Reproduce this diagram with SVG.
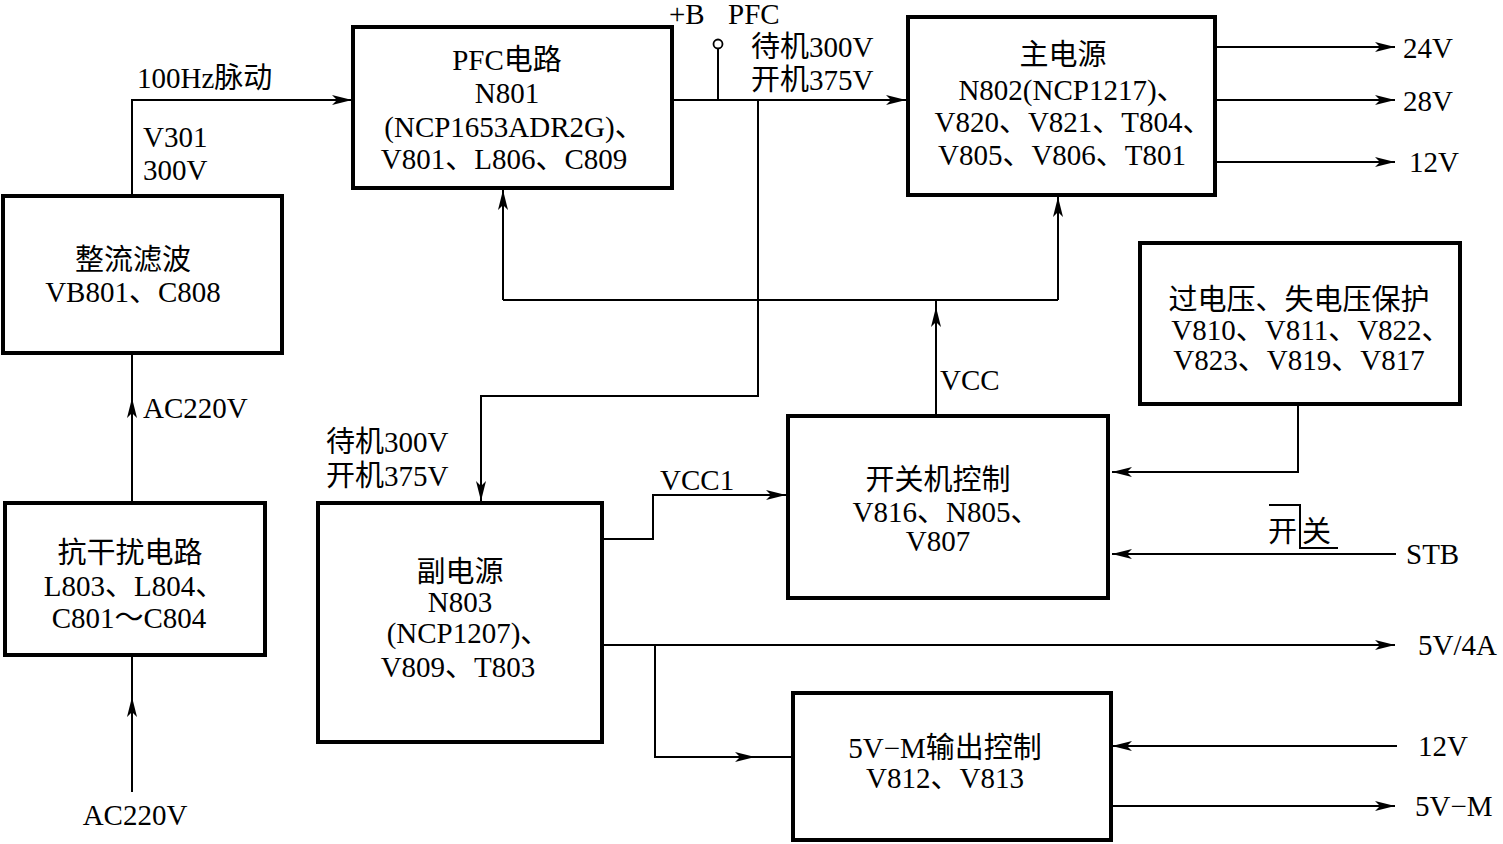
<svg xmlns="http://www.w3.org/2000/svg" width="1503" height="844" viewBox="0 0 1503 844">
<style>
text{font-family:"Liberation Serif","Noto Sans CJK SC",serif;font-size:29px;fill:#000}
.c{text-anchor:middle}
.box{fill:#fff;stroke:#000;stroke-width:4}
.ln{fill:none;stroke:#000;stroke-width:2}
</style>
<defs>
<marker id="arr" markerWidth="22" markerHeight="14" refX="20" refY="7" orient="auto" markerUnits="userSpaceOnUse">
<path d="M0,2 L20,7 L0,12 L5,7 Z" fill="#000"/>
</marker>
</defs>
<rect width="1503" height="844" fill="#fff"/>
<g id="connectors">
<path class="ln" d="M132,792 V697" marker-end="url(#arr)"/>
<path class="ln" d="M132,697 V655"/>
<path class="ln" d="M132,503 V398" marker-end="url(#arr)"/>
<path class="ln" d="M132,398 V353"/>
<path class="ln" d="M132,196 V100 H352" marker-end="url(#arr)"/>
<path class="ln" d="M672,100 H906" marker-end="url(#arr)"/>
<path class="ln" d="M718,100 V49"/>
<circle cx="718" cy="44" r="4.5" fill="#fff" stroke="#000" stroke-width="1.8"/>
<path class="ln" d="M758,100 V396 H481 V501" marker-end="url(#arr)"/>
<path class="ln" d="M503,300 H1058"/>
<path class="ln" d="M503,300 V190" marker-end="url(#arr)"/>
<path class="ln" d="M1058,300 V197" marker-end="url(#arr)"/>
<path class="ln" d="M936,416 V307" marker-end="url(#arr)"/>
<path class="ln" d="M936,307 V300"/>
<path class="ln" d="M602,539 H653 V495 H786" marker-end="url(#arr)"/>
<path class="ln" d="M1298,404 V472 H1112" marker-end="url(#arr)"/>
<path class="ln" d="M1396,554 H1112" marker-end="url(#arr)"/>
<path class="ln" d="M602,645 H1395" marker-end="url(#arr)"/>
<path class="ln" d="M655,645 V757 H755" marker-end="url(#arr)"/>
<path class="ln" d="M755,757 H793"/>
<path class="ln" d="M1397,746 H1112" marker-end="url(#arr)"/>
<path class="ln" d="M1111,806 H1395" marker-end="url(#arr)"/>
<path class="ln" d="M1215,47 H1395" marker-end="url(#arr)"/>
<path class="ln" d="M1215,100 H1395" marker-end="url(#arr)"/>
<path class="ln" d="M1215,162 H1395" marker-end="url(#arr)"/>
<path class="ln" d="M1269,505 H1300 V548 H1338" stroke-width="1.6"/>
</g>
<g id="labels">
<text x="137" y="88">100Hz脉动</text>
<text x="143" y="147">V301</text>
<text x="143" y="180">300V</text>
<text x="143" y="418">AC220V</text>
<text class="c" x="135" y="825">AC220V</text>
<text x="669" y="24">+B</text>
<text x="728" y="24">PFC</text>
<text x="751" y="57">待机300V</text>
<text x="751" y="90">开机375V</text>
<text x="1403" y="58">24V</text>
<text x="1403" y="111">28V</text>
<text x="1409" y="172">12V</text>
<text x="940" y="390">VCC</text>
<text x="326" y="452">待机300V</text>
<text x="326" y="486">开机375V</text>
<text x="660" y="490">VCC1</text>
<text x="1268" y="542">开</text>
<text x="1302" y="542">关</text>
<text x="1406" y="564">STB</text>
<text x="1418" y="655">5V/4A</text>
<text x="1418" y="756">12V</text>
<text x="1415" y="816">5V−M</text>
</g>
<g id="node-zhengliu">
<rect class="box" x="3" y="196" width="279" height="157"/>
<text class="c" x="133" y="270">整流滤波</text>
<text class="c" x="133" y="302">VB801、C808</text>
</g>
<g id="node-kangganrao">
<rect class="box" x="5" y="503" width="260" height="152"/>
<text class="c" x="130" y="563">抗干扰电路</text>
<text class="c" x="134" y="596">L803、L804、</text>
<text class="c" x="129" y="628">C801～C804</text>
</g>
<g id="node-pfc">
<rect class="box" x="353" y="27" width="319" height="161"/>
<text class="c" x="507" y="70">PFC电路</text>
<text class="c" x="507" y="103">N801</text>
<text class="c" x="514" y="137">(NCP1653ADR2G)、</text>
<text class="c" x="504" y="169">V801、L806、C809</text>
</g>
<g id="node-main">
<rect class="box" x="908" y="17" width="307" height="178"/>
<text class="c" x="1063" y="65">主电源</text>
<text class="c" x="1072" y="100">N802(NCP1217)、</text>
<text class="c" x="1073" y="132">V820、V821、T804、</text>
<text class="c" x="1062" y="165">V805、V806、T801</text>
</g>
<g id="node-protect">
<rect class="box" x="1140" y="243" width="320" height="161"/>
<text class="c" x="1299" y="310">过电压、失电压保护</text>
<text class="c" x="1311" y="340">V810、V811、V822、</text>
<text class="c" x="1299" y="370">V823、V819、V817</text>
</g>
<g id="node-onoff">
<rect class="box" x="788" y="416" width="320" height="182"/>
<text class="c" x="938" y="490">开关机控制</text>
<text class="c" x="946" y="522">V816、N805、</text>
<text class="c" x="938" y="551">V807</text>
</g>
<g id="node-sub">
<rect class="box" x="318" y="503" width="284" height="239"/>
<text class="c" x="460" y="582">副电源</text>
<text class="c" x="460" y="612">N803</text>
<text class="c" x="468" y="643">(NCP1207)、</text>
<text class="c" x="458" y="677">V809、T803</text>
</g>
<g id="node-5vm">
<rect class="box" x="793" y="693" width="318" height="147"/>
<text class="c" x="945" y="758">5V−M输出控制</text>
<text class="c" x="945" y="788">V812、V813</text>
</g>
</svg>
